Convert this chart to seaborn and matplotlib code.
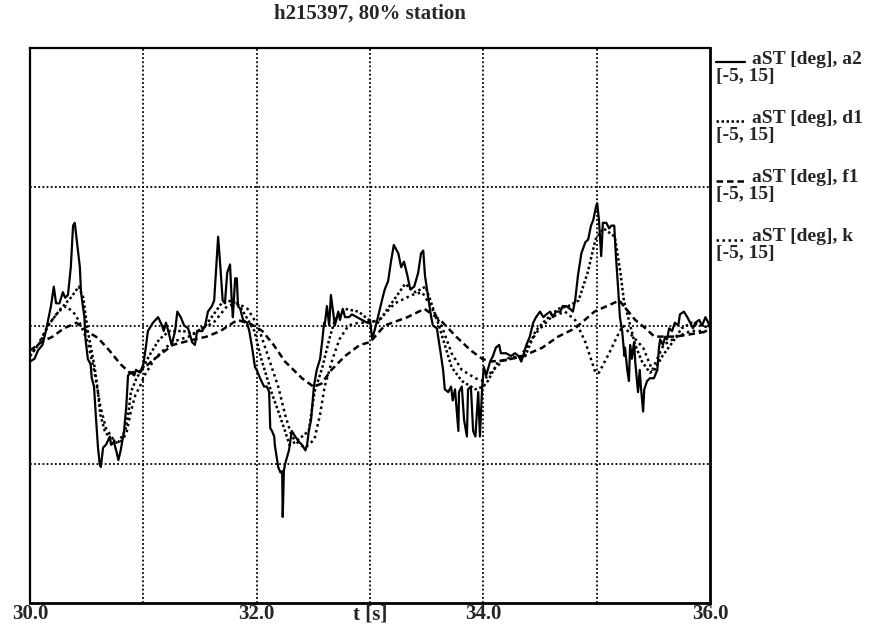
import matplotlib
matplotlib.use("Agg")
import matplotlib.pyplot as plt
from matplotlib.lines import Line2D
import pandas as pd
import seaborn as sns

# Angle of attack aST [deg] against time t [s] for the four channels
t_a2 = [30.00, 30.04, 30.07, 30.11, 30.14, 30.165, 30.185, 30.21, 30.23, 30.26,
        30.29, 30.31, 30.335, 30.36, 30.38, 30.395, 30.42, 30.44, 30.45, 30.48,
        30.49, 30.51, 30.535, 30.545, 30.565, 30.58, 30.60, 30.615, 30.625, 30.645,
        30.67, 30.705, 30.715, 30.74, 30.76, 30.78, 30.80, 30.83, 30.85, 30.865,
        30.89, 30.92, 30.935, 30.97, 31.00, 31.025, 31.04, 31.085, 31.13, 31.165,
        31.18, 31.20, 31.22, 31.25, 31.28, 31.30, 31.33, 31.36, 31.395, 31.43,
        31.455, 31.475, 31.52, 31.545, 31.57, 31.605, 31.625, 31.64, 31.66, 31.68,
        31.70, 31.72, 31.74, 31.765, 31.78, 31.79, 31.81, 31.825, 31.835, 31.855,
        31.88, 31.915, 31.935, 31.96, 31.985, 32.00, 32.03, 32.065, 32.09, 32.11,
        32.12, 32.135, 32.155, 32.16, 32.19, 32.21, 32.225, 32.23, 32.24, 32.25,
        32.285, 32.31, 32.34, 32.375, 32.40, 32.43, 32.445, 32.46, 32.48, 32.505,
        32.53, 32.56, 32.58, 32.595, 32.60, 32.62, 32.64, 32.655, 32.68, 32.69,
        32.72, 32.735, 32.76, 32.78, 32.815, 32.84, 32.885, 32.93, 32.975, 33.00,
        33.02, 33.045, 33.07, 33.105, 33.13, 33.16, 33.185, 33.21, 33.25, 33.275,
        33.30, 33.33, 33.355, 33.39, 33.425, 33.45, 33.47, 33.485, 33.51, 33.54,
        33.555, 33.59, 33.62, 33.645, 33.66, 33.69, 33.715, 33.73, 33.75, 33.78,
        33.785, 33.81, 33.83, 33.855, 33.865, 33.89, 33.91, 33.93, 33.955, 33.97,
        33.99, 34.005, 34.025, 34.06, 34.085, 34.11, 34.14, 34.155, 34.20, 34.245,
        34.28, 34.31, 34.335, 34.35, 34.38, 34.41, 34.44, 34.465, 34.50, 34.53,
        34.555, 34.59, 34.615, 34.64, 34.68, 34.70, 34.73, 34.765, 34.79, 34.81,
        34.835, 34.865, 34.90, 34.925, 34.95, 34.97, 34.995, 35.005, 35.02, 35.04,
        35.055, 35.085, 35.11, 35.13, 35.155, 35.17, 35.19, 35.205, 35.225, 35.245,
        35.25, 35.27, 35.285, 35.295, 35.31, 35.33, 35.34, 35.365, 35.38, 35.39,
        35.41, 35.42, 35.445, 35.47, 35.505, 35.535, 35.55, 35.56, 35.585, 35.605,
        35.62, 35.64, 35.665, 35.69, 35.72, 35.735, 35.77, 35.80, 35.825, 35.85,
        35.87, 35.905, 35.93, 35.96, 35.985, 36.00]
v_a2 = [3.7, 3.8, 4.1, 4.3, 4.8, 5.3, 5.7, 6.4, 5.8, 5.8,
        6.2, 6.0, 6.1, 7.1, 8.6, 8.7, 7.8, 7.1, 6.2, 5.3,
        4.5, 3.8, 3.6, 3.1, 2.8, 1.8, 0.6, 0.0, -0.1, 0.6,
        0.7, 1.0, 0.7, 0.8, 0.5, 0.15, 0.5, 1.2, 2.1, 3.2,
        3.3, 3.2, 3.4, 3.3, 3.6, 4.3, 4.8, 5.1, 5.3, 5.0,
        4.8, 5.1, 4.8, 4.3, 4.8, 5.5, 5.3, 5.0, 4.9, 4.4,
        4.3, 4.8, 4.8, 5.0, 5.5, 5.7, 5.9, 6.9, 8.2, 7.1,
        5.9, 5.8, 6.9, 7.2, 5.9, 5.3, 6.7, 6.7, 5.7, 5.6,
        5.2, 5.1, 4.8, 4.2, 3.5, 3.4, 3.1, 2.8, 2.8, 2.6,
        1.3, 1.2, 1.0, 0.7, -0.1, -0.3, -0.25, -1.9, -0.25, 0.0,
        0.5, 1.2, 1.0, 0.8, 0.7, 0.5, 0.7, 1.2, 1.6, 2.8,
        3.4, 3.8, 4.5, 5.1, 5.0, 5.7, 5.0, 6.1, 5.3, 5.0,
        5.5, 5.2, 5.6, 5.3, 5.3, 5.4, 5.3, 5.2, 5.1, 5.2,
        4.5, 4.9, 5.3, 5.9, 6.3, 6.6, 7.3, 7.9, 7.6, 7.1,
        7.3, 6.8, 6.3, 6.4, 6.9, 7.6, 7.7, 6.8, 6.1, 5.3,
        5.0, 4.9, 4.1, 3.4, 2.7, 2.6, 2.8, 2.3, 2.7, 1.2,
        2.6, 2.8, 1.6, 1.0, 2.7, 2.8, 1.2, 1.0, 2.6, 1.0,
        2.8, 3.5, 3.2, 3.7, 3.9, 4.2, 4.3, 4.0, 4.0, 3.9,
        4.0, 3.9, 3.7, 3.9, 4.3, 4.6, 5.1, 5.3, 5.5, 5.3,
        5.4, 5.5, 5.3, 5.5, 5.5, 5.7, 5.7, 5.6, 5.5, 5.9,
        6.8, 7.6, 8.0, 8.1, 8.6, 8.8, 9.3, 9.4, 8.8, 7.5,
        8.7, 8.7, 8.5, 8.6, 8.6, 7.5, 6.3, 5.3, 4.8, 3.9,
        4.2, 3.4, 3.0, 4.3, 3.8, 4.4, 3.7, 2.6, 3.4, 2.8,
        1.9, 2.7, 3.0, 3.1, 3.1, 3.4, 4.2, 4.5, 4.3, 4.6,
        4.5, 4.9, 4.8, 5.1, 5.0, 5.4, 5.5, 5.3, 5.1, 4.9,
        5.1, 5.2, 5.0, 5.3, 5.1, 4.9]

t_d1 = [30.00, 30.09, 30.16, 30.27, 30.36, 30.43, 30.47, 30.51, 30.57, 30.60,
        30.62, 30.66, 30.71, 30.78, 30.84, 30.87, 30.89, 30.94, 31.00, 31.05,
        31.14, 31.23, 31.35, 31.45, 31.55, 31.69, 31.78, 31.85, 31.91, 31.98,
        32.04, 32.13, 32.20, 32.25, 32.29, 32.34, 32.46, 32.51, 32.58, 32.64,
        32.69, 32.78, 32.90, 32.99, 33.07, 33.19, 33.31, 33.40, 33.49, 33.55,
        33.60, 33.66, 33.72, 33.81, 33.93, 34.00, 34.04, 34.13, 34.24, 34.37,
        34.46, 34.55, 34.66, 34.75, 34.84, 34.92, 34.99, 35.06, 35.16, 35.21,
        35.24, 35.29, 35.34, 35.40, 35.47, 35.51, 35.58, 35.67, 35.75, 35.84,
        35.93, 36.00]
v_d1 = [3.9, 4.4, 5.0, 5.6, 6.0, 6.4, 6.0, 4.8, 3.5, 2.6,
        1.8, 1.2, 0.9, 0.8, 1.2, 1.9, 2.6, 3.1, 3.5, 3.9,
        4.5, 4.8, 4.8, 4.7, 5.0, 5.8, 5.9, 5.7, 5.3, 4.8,
        3.8, 2.6, 1.8, 1.2, 0.7, 0.8, 1.2, 2.6, 3.5, 4.5,
        5.2, 5.6, 5.5, 5.2, 5.1, 5.8, 6.5, 6.2, 6.4, 5.7,
        5.1, 4.3, 3.5, 3.0, 2.7, 2.8, 3.0, 3.7, 3.8, 3.9,
        4.8, 5.2, 5.6, 5.7, 5.9, 6.9, 8.1, 8.5, 8.2, 6.9,
        5.9, 5.1, 4.3, 3.7, 3.3, 3.4, 3.9, 4.4, 4.9, 5.1,
        5.0, 4.9]

t_f1 = [30.00, 30.10, 30.20, 30.30, 30.41, 30.50, 30.60, 30.70, 30.80, 30.88,
        30.97, 31.10, 31.26, 31.40, 31.56, 31.68, 31.83, 31.95, 32.05, 32.15,
        32.25, 32.40, 32.50, 32.57, 32.66, 32.78, 32.91, 33.00, 33.13, 33.33,
        33.48, 33.62, 33.76, 33.89, 33.99, 34.06, 34.20, 34.35, 34.52, 34.66,
        34.81, 34.98, 35.20, 35.34, 35.43, 35.51, 35.70, 35.85, 36.00]
v_f1 = [4.1, 4.4, 4.6, 4.9, 5.1, 4.8, 4.55, 4.1, 3.6, 3.3,
        3.35, 3.8, 4.3, 4.45, 4.6, 4.8, 5.2, 5.05, 4.8, 4.3,
        3.7, 3.1, 2.8, 2.9, 3.4, 3.9, 4.3, 4.4, 5.0, 5.3,
        5.6, 5.2, 4.6, 4.1, 3.8, 3.7, 3.75, 3.9, 4.2, 4.6,
        4.9, 5.5, 5.9, 5.2, 4.9, 4.6, 4.6, 4.7, 4.8]

t_k = [30.00, 30.07, 30.16, 30.25, 30.32, 30.40, 30.45, 30.51, 30.57, 30.62,
       30.67, 30.75, 30.79, 30.85, 30.89, 30.93, 30.97, 31.01, 31.10, 31.25,
       31.40, 31.52, 31.62, 31.74, 31.83, 31.92, 32.01, 32.10, 32.19, 32.25,
       32.31, 32.38, 32.43, 32.51, 32.56, 32.60, 32.67, 32.73, 32.81, 32.90,
       32.99, 33.08, 33.22, 33.37, 33.46, 33.55, 33.64, 33.72, 33.81, 33.93,
       34.00, 34.04, 34.19, 34.33, 34.48, 34.60, 34.72, 34.81, 34.90, 34.99,
       35.02, 35.11, 35.18, 35.23, 35.32, 35.41, 35.49, 35.59, 35.71, 35.83,
       36.00]
v_k = [3.9, 4.3, 5.0, 5.5, 5.7, 5.4, 5.0, 4.4, 3.3, 2.1,
       1.3, 0.8, 0.75, 1.1, 1.9, 2.5, 2.8, 3.2, 3.8, 4.4,
       4.6, 4.9, 5.1, 5.7, 5.8, 5.6, 5.0, 3.9, 2.8, 1.8,
       1.0, 0.7, 0.6, 0.9, 1.8, 2.8, 3.8, 4.5, 5.0, 5.1,
       5.1, 5.2, 5.8, 6.1, 6.2, 5.6, 4.9, 4.0, 3.4, 3.1,
       3.0, 3.2, 3.8, 3.9, 4.8, 5.3, 5.5, 5.2, 4.4, 3.3,
       3.3, 4.0, 4.6, 5.0, 4.6, 4.2, 3.4, 4.3, 4.6, 4.8,
       4.8]

channels = ["a2", "d1", "f1", "k"]
x_ticks = [30, 32, 34, 36]
x_tick_labels = ["30.0", "32.0", "34.0", "36.0"]
x_grid = [31, 32, 33, 34, 35]
y_grid = [0, 5, 10]

frames = []
for name, tt, vv in zip(channels, [t_a2, t_d1, t_f1, t_k], [v_a2, v_d1, v_f1, v_k]):
    frames.append(pd.DataFrame({"t": tt, "aST": vv, "channel": name}))
data = pd.concat(frames, ignore_index=True)

sns.set_style("white")
plt.rcParams["font.family"] = ["Liberation Serif", "DejaVu Serif"]
plt.rcParams["font.weight"] = "bold"

W, H = 892, 630
fig = plt.figure(figsize=(W / 100, H / 100), dpi=100)
ax = fig.add_axes([30 / W, 27 / H, 680 / W, 555 / H])

line_styles = {
    "a2": dict(linestyle="-", linewidth=1.6),
    "d1": dict(linestyle=(0, (1, 1)), linewidth=1.8),
    "f1": dict(linestyle=(0, (2.6, 1.6)), linewidth=1.8),
    "k": dict(linestyle=(0, (1, 1.4)), linewidth=1.8),
}

grid_kw = dict(color="black", linewidth=1.3, linestyle=(0, (1, 1.3)), zorder=1)
for gx in x_grid:
    ax.axvline(gx, **grid_kw)
for gy in y_grid:
    ax.axhline(gy, **grid_kw)

for name in channels:
    sub = data[data["channel"] == name]
    sns.lineplot(data=sub, x="t", y="aST", ax=ax, color="black", sort=False,
                 estimator=None, legend=False, zorder=3, **line_styles[name])

ax.set_xlim(30, 36)
ax.set_ylim(-5, 15)
ax.set_xticks(x_ticks)
ax.set_xticklabels(x_tick_labels, fontsize=15, fontweight="bold")
ax.set_yticks([])
ax.tick_params(axis="x", length=0, pad=1)
ax.set_ylabel("")
ax.set_xlabel("t [s]", fontsize=15, fontweight="bold")
ax.xaxis.set_label_coords(0.5, -0.003)
for side in ["left", "right", "top", "bottom"]:
    ax.spines[side].set_visible(True)
    ax.spines[side].set_color("black")
    ax.spines[side].set_linewidth(1.6)
ax.spines["bottom"].set_linewidth(2.0)
ax.spines["right"].set_linewidth(2.0)

fig.text(370 / W, 1 - 14 / H, "h215397, 80% station", ha="center", va="center",
         fontsize=15, fontweight="bold")

# channel key on the right-hand side
for i, name in enumerate(channels):
    yc = 59 + 59.3 * i
    fy = 1 - yc / H
    fig.add_artist(Line2D([716 / W, 745 / W], [1 - (yc + 3) / H] * 2,
                          transform=fig.transFigure, color="black",
                          **line_styles[name]))
    fig.text(752 / W, fy, f"aST [deg], {name}", ha="left", va="center",
             fontsize=14, fontweight="bold")
    fig.text(716 / W, 1 - (yc + 17) / H, "[-5, 15]", ha="left", va="center",
             fontsize=14, fontweight="bold")

fig.savefig("out.png", dpi=100, facecolor="white")
